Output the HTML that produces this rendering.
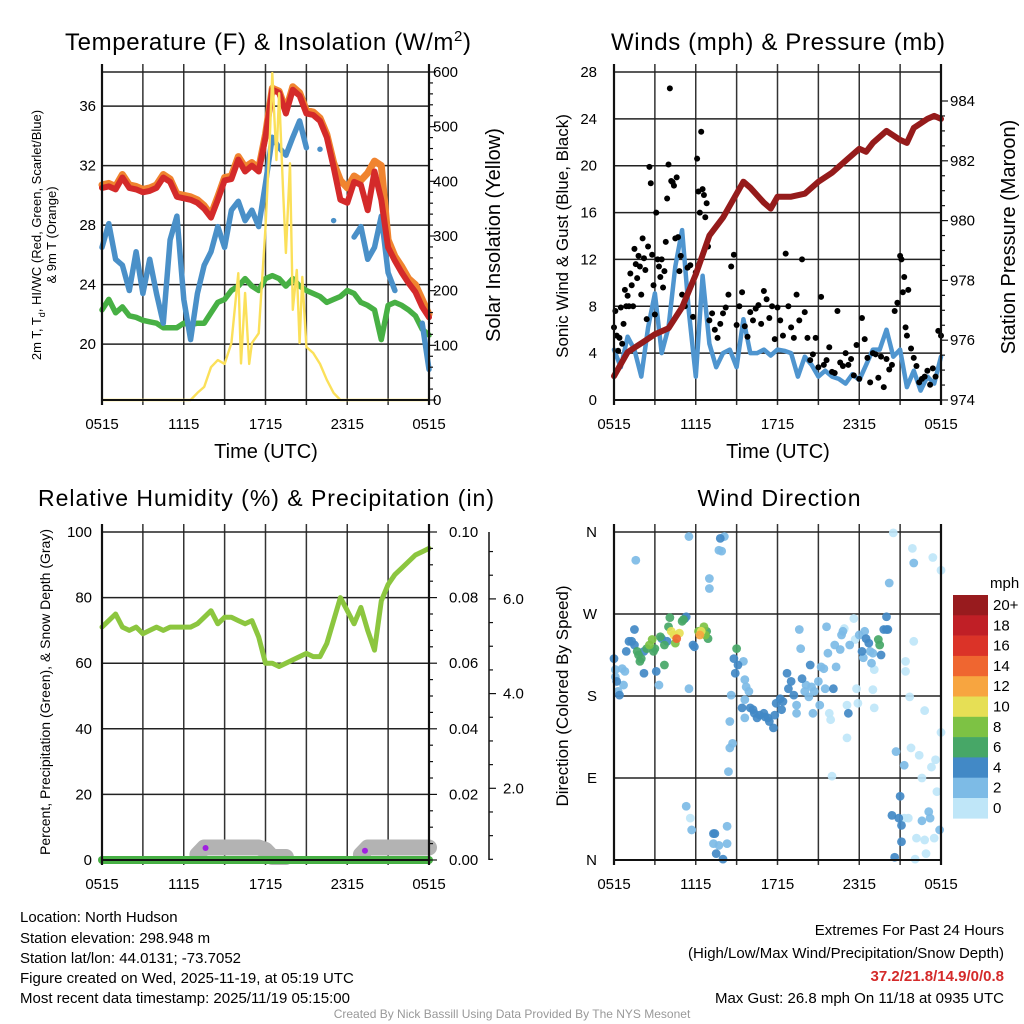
<!DOCTYPE html>
<html><head><meta charset="utf-8">
<style>
html,body{margin:0;padding:0;background:#fff;}
svg{display:block;font-family:"Liberation Sans",sans-serif;}
</style></head>
<body>
<svg id="chart" width="1024" height="1024" viewBox="0 0 1024 1024" xmlns="http://www.w3.org/2000/svg">
<rect x="0" y="0" width="1024" height="1024" fill="#fff"/>
<!-- titles -->
<text x="268" y="50" font-size="24" text-anchor="middle" textLength="406">Temperature (F) &amp; Insolation (W/m<tspan dy="-9" font-size="15">2</tspan><tspan dy="9">)</tspan></text>
<text x="778" y="50" font-size="24" text-anchor="middle" textLength="334">Winds (mph) &amp; Pressure (mb)</text>
<text x="266" y="506" font-size="23" text-anchor="middle" textLength="456">Relative Humidity (%) &amp; Precipitation (in)</text>
<text x="779" y="506" font-size="23" text-anchor="middle" textLength="163">Wind Direction</text>
<!-- axis titles -->
<text transform="translate(41,235) rotate(-90)" font-size="13" text-anchor="middle">2m T, T<tspan dy="4" font-size="9">d</tspan><tspan dy="-4">, HI/WC (Red, Green, Scarlet/Blue)</tspan></text>
<text transform="translate(56,235) rotate(-90)" font-size="13" text-anchor="middle">&amp; 9m T (Orange)</text>
<text transform="translate(500,235) rotate(-90)" font-size="20" text-anchor="middle">Solar Insolation (Yellow)</text>
<text x="266" y="458" font-size="20" text-anchor="middle">Time (UTC)</text>
<text transform="translate(568,236) rotate(-90)" font-size="17" text-anchor="middle">Sonic Wind &amp; Gust (Blue, Black)</text>
<text transform="translate(1015,237) rotate(-90)" font-size="20" text-anchor="middle">Station Pressure (Maroon)</text>
<text x="778" y="458" font-size="20" text-anchor="middle">Time (UTC)</text>
<text transform="translate(50,692) rotate(-90)" font-size="14" text-anchor="middle">Percent, Precipitation (Green), &amp; Snow Depth (Gray)</text>
<text transform="translate(568,696) rotate(-90)" font-size="17" text-anchor="middle">Direction (Colored By Speed)</text>
<!-- footer -->
<g font-size="15">
<text x="20" y="922">Location: North Hudson</text>
<text x="20" y="943">Station elevation: 298.948 m</text>
<text x="20" y="963">Station lat/lon: 44.0131; -73.7052</text>
<text x="20" y="983">Figure created on Wed, 2025-11-19, at 05:19 UTC</text>
<text x="20" y="1003">Most recent data timestamp: 2025/11/19 05:15:00</text>
</g>
<g font-size="15" text-anchor="end">
<text x="1004" y="935">Extremes For Past 24 Hours</text>
<text x="1004" y="958">(High/Low/Max Wind/Precipitation/Snow Depth)</text>
<text x="1004" y="981" fill="#d42a2a" font-weight="bold">37.2/21.8/14.9/0/0.8</text>
<text x="1004" y="1003">Max Gust: 26.8 mph On 11/18 at 0935 UTC</text>
</g>
<text x="512" y="1018" font-size="12" fill="#999" text-anchor="middle">Created By Nick Bassill Using Data Provided By The NYS Mesonet</text>
</svg>
<script>
// ---------- DATA ----------
const xTickLabels = ["0515","1115","1715","2315","0515"];
const halfHours = [];
for (let i = 0; i <= 48; i++) halfHours.push(i / 2);
const tempAir = [30.5,30.6,30.4,31.2,30.5,30.4,30.2,30.3,30.5,31.2,30.9,29.9,29.8,29.7,29.5,29.1,28.5,29.7,31.0,31.1,32.4,31.6,32.0,31.6,33.9,37.1,36.9,35.5,37.1,36.7,35.5,35.4,35.0,33.9,31.9,29.7,29.5,30.9,30.7,29.0,31.6,29.7,26.5,25.6,24.8,24.1,23.5,22.5,21.8];
const temp9m = [30.7,30.8,30.6,31.4,30.7,30.6,30.4,30.5,30.7,31.4,31.1,30.1,30.0,29.9,29.7,29.3,28.7,29.9,31.2,31.3,32.6,31.9,32.2,31.8,34.1,37.2,37.0,35.7,37.3,36.9,35.7,35.6,35.2,34.1,32.2,31.0,30.5,31.3,31.0,31.5,32.3,32.0,27.0,25.9,25.2,24.4,24.0,23.0,22.0];
const heatIndexWindChill = [26.5,28.1,25.7,25.3,23.6,26.2,23.4,25.7,23.4,21.4,27.0,28.6,23.0,20.3,23.4,25.3,26.2,27.9,26.5,29.0,29.6,28.3,29.0,27.9,30.8,33.9,33.2,32.7,33.9,35.0,33.2,null,33.1,null,28.3,null,null,27.2,27.9,25.7,26.5,28.6,24.8,23.6,null,null,null,21.4,18.3];
const dewPoint = [22.3,23.0,22.1,22.5,21.9,21.8,21.6,21.5,21.4,21.1,21.1,21.1,21.4,21.3,21.4,21.4,22.1,22.8,23.0,23.6,23.9,24.4,23.9,23.6,24.4,24.6,24.4,23.9,24.4,23.9,23.6,23.4,23.2,22.8,23.0,23.2,23.6,23.4,22.8,22.6,22.3,20.3,22.6,22.8,22.6,22.3,21.9,21.0,20.6];
const solarHours = [0,6.5,7,7.5,8,8.5,9,9.5,10,10.2,10.5,10.8,11,11.5,12,12.3,12.5,12.8,13,13.3,13.5,13.8,14,14.3,14.5,14.7,15,15.5,16,16.5,17,17.5,24];
const solarValues = [0,0,13,24,60,73,66,104,232,67,196,66,104,122,316,470,598,439,561,378,269,433,165,238,104,225,97,86,66,37,13,0,0];
const tempTicks = [20,24,28,32,36];
const solarTicks = [0,100,200,300,400,500,600];

const windSpeed = [4.3,2.8,5.4,4.3,2.0,6.2,9.1,4.0,6.2,11.4,14.5,7.5,2.0,10.6,4.8,2.8,4.0,4.3,2.8,6.9,4.0,4.0,4.3,3.8,4.3,4.2,4.0,2.0,3.7,3.0,2.0,2.5,2.0,1.8,1.4,2.2,1.7,3.0,4.3,4.3,6.0,3.7,4.3,1.1,2.5,0.8,2.0,1.4,3.7];
const gustHours = [0,0.1,0.2,0.3,0.4,0.5,0.6,0.7,0.8,0.9,1.0,1.1,1.2,1.3,1.4,1.5,1.6,1.7,1.8,1.9,2.0,2.1,2.2,2.3,2.4,2.5,2.6,2.7,2.8,2.9,3.0,3.1,3.2,3.3,3.4,3.5,3.6,3.7,3.8,3.9,4.0,4.1,4.2,4.3,4.4,4.5,4.6,4.7,4.8,4.9,5.0,5.2,5.4,5.6,5.8,6.0,6.1,6.2,6.3,6.4,6.5,6.6,6.7,6.8,6.9,7.0,7.2,7.4,7.6,7.8,8.0,8.2,8.4,8.6,8.8,9.0,9.2,9.4,9.6,9.8,10.0,10.2,10.4,10.6,10.8,11.0,11.2,11.4,11.6,11.8,12.0,12.2,12.4,12.6,12.8,13.0,13.2,13.4,13.6,13.8,14.0,14.2,14.4,14.6,14.8,15.0,15.2,15.4,15.6,15.8,16.0,16.2,16.4,16.6,16.8,17.0,17.2,17.4,17.6,17.8,18.0,18.2,18.4,18.6,18.8,19.0,19.2,19.4,19.6,19.8,20.0,20.2,20.4,20.6,20.8,21.0,21.1,21.2,21.3,21.4,21.5,21.6,21.8,22.0,22.2,22.4,22.6,22.8,23.0,23.2,23.4,23.6,23.8,24];
const gustValues = [6.2,7.6,5.5,4.2,5.3,7.9,4.8,6.5,9.4,8.0,8.9,8.0,10.8,9.8,8.0,12.9,11.6,10.4,12.3,11.4,9.0,13.8,12.1,11.1,6.9,13.1,19.9,18.5,12.4,9.8,7.3,16.0,12.0,11.4,10.5,12.0,9.6,11.0,13.5,17.2,20.1,26.6,18.7,18.6,18.3,13.8,19.0,13.9,11.0,12.3,9.0,8.0,11.3,11.5,7.1,10.9,20.6,17.8,16.0,22.9,18.0,17.5,15.6,16.8,13.1,6.8,7.4,6.0,5.3,6.5,7.4,7.9,9.0,11.4,12.4,6.4,8.0,9.2,6.3,5.4,7.5,6.8,7.8,8.1,6.5,9.3,8.6,7.0,8.0,5.2,7.9,6.8,5.5,12.5,8.0,6.2,5.3,9.0,6.8,12.0,7.5,5.3,3.4,3.9,5.3,2.8,8.8,3.0,3.4,4.5,2.4,2.3,7.6,3.2,2.9,4.0,3.0,3.5,2.1,4.7,1.8,7.0,5.2,3.6,1.5,4.0,3.9,1.9,3.7,1.1,3.5,2.6,3.0,7.6,8.3,12.3,12.0,9.2,10.5,6.2,5.5,9.4,4.4,3.6,2.9,1.5,1.8,2.0,2.5,1.3,2.7,2.0,5.9,5.5];
const presHours = [0,1,2,3,4,5,6,7,8,9,9.5,10,11,11.5,12,13,14,15,16,17,18,18.5,19,20,21,21.5,22,23,23.5,24];
const pressure = [974.8,975.6,975.9,976.2,976.4,977.1,978.2,979.5,980.1,980.9,981.3,981.1,980.6,980.4,980.8,980.8,980.9,981.3,981.6,982.0,982.4,982.3,982.6,983.0,982.7,982.6,983.1,983.4,983.5,983.4];
const windTicks = [0,4,8,12,16,20,24,28];
const presTicks = [974,976,978,980,982,984];

const relHumidity = [71,73,75,71,70,71,69,70,71,70,71,71,71,71,72,74,76,72,74,74,73,72,73,68,60,60,59,60,61,62,63,62,62,66,73,80,76,72,77,70,64,79,84,87,89,91,93,94,95];
const snowDepth = [null,null,null,null,null,null,null,null,null,null,null,null,null,null,0.6,0.75,0.75,0.75,0.75,0.75,0.75,0.75,0.75,0.75,0.7,0.55,0.55,0.55,null,null,null,null,null,null,null,null,null,null,0.6,0.75,0.75,0.75,0.75,0.75,0.75,0.75,0.75,0.75,0.75];
const precipHours = [0,24];
const precipValues = [0,0];
const precipTypeHours = [7.6,19.3];
const precipTypeSnow = [0.74,0.68];
const rhTicks = [0,20,40,60,80,100];
const precipTicks = ["0.00","0.02","0.04","0.06","0.08","0.10"];
const snowTicks = [2.0,4.0,6.0];

const dirLabels = ["N","E","S","W","N"];
const dirTicks = [0,90,180,270,360];
const speedBins = ["0","2","4","6","8","10","12","14","16","18","20+"];
const speedColors = ["#bfe6f8","#7dbbe6","#4289c6","#47a767","#7dc244","#e6df55","#f7a540","#ef6630","#db3328","#c01f26","#981b1e"];
const dirObs = [[0,221,5],[0.1,209,3],[0.1,201,3],[0.2,196,5],[0.3,185,3],[0.4,181,5],[0.7,192,3],[0.6,210,3],[0.8,207,3],[0.9,229,5],[1.1,240,5],[1.3,240,5],[1.5,253,5],[1.5,236,5],[1.7,229,7],[1.8,225,7],[1.9,218,7],[2.0,221,7],[2.2,229,5],[2.4,232,7],[2.6,236,9],[2.8,242,9],[2.9,229,7],[3.0,232,7],[3.1,207,5],[3.3,192,3],[3.4,245,7],[3.5,243,5],[3.7,236,7],[3.9,240,5],[3.7,214,7],[4.0,256,7],[4.1,266,7],[4.2,251,11],[4.4,247,11],[4.5,238,9],[4.6,243,15],[4.8,249,11],[5.0,262,7],[5.1,264,7],[5.2,265,5],[5.3,267,5],[5.5,188,3],[5.5,355,3],[5.8,236,5],[5.9,234,5],[6.2,251,9],[6.3,247,13],[6.4,251,11],[6.6,256,9],[6.7,247,9],[6.8,251,7],[6.9,243,7],[1.6,329,3],[2.2,205,5],[7.0,309,3],[7.0,298,3],[7.7,340,3],[7.9,339,3],[7.8,353,5],[8.1,355,3],[5.3,59,3],[5.6,46,1],[5.7,33,3],[7.3,29,5],[7.4,29,5],[7.3,18,3],[7.5,7,5],[7.7,16,3],[8.0,1,5],[8.3,37,3],[8.3,18,3],[8.4,97,3],[8.5,152,3],[8.5,123,3],[8.7,128,3],[8.6,181,3],[8.8,221,5],[8.9,205,5],[9.0,232,7],[9.1,214,5],[9.5,218,3],[9.6,198,3],[9.4,167,5],[9.6,176,3],[9.6,156,3],[9.7,190,3],[9.9,185,3],[10.0,167,5],[10.2,165,5],[10.3,161,5],[10.5,156,5],[10.7,159,5],[11.0,161,5],[11.1,157,5],[11.3,156,5],[11.4,152,5],[11.7,145,5],[11.8,159,5],[11.9,172,5],[12.2,177,5],[12.3,165,5],[12.4,174,5],[12.7,205,5],[12.8,188,5],[13.0,196,5],[13.2,181,5],[13.4,170,3],[13.4,161,3],[13.6,253,3],[13.7,232,3],[13.8,199,5],[14.0,185,3],[14.1,192,3],[14.3,179,3],[14.4,214,5],[14.5,190,3],[14.6,161,3],[14.7,185,3],[15.0,196,3],[15.1,170,3],[15.2,212,3],[15.4,210,3],[15.5,188,3],[15.6,256,3],[15.7,227,3],[15.8,161,1],[15.9,154,1],[16.0,92,1],[16.1,188,5],[16.2,236,3],[16.3,212,3],[16.6,231,3],[16.7,247,3],[16.8,251,3],[16.9,254,1],[17.1,170,1],[17.1,134,1],[17.2,161,5],[17.3,236,3],[17.6,265,1],[17.7,242,1],[17.8,188,1],[17.9,172,1],[18.0,247,3],[18.2,229,5],[18.3,222,3],[18.4,251,3],[18.5,243,5],[18.7,238,5],[18.8,229,3],[18.9,216,3],[19.0,227,3],[19.1,209,1],[19.0,187,1],[19.1,167,1],[19.4,242,7],[19.5,236,7],[19.6,225,5],[19.8,253,5],[20.0,267,5],[20.0,253,5],[20.1,253,5],[20.2,304,3],[20.4,49,5],[20.5,359,1],[20.6,3,5],[20.7,119,3],[20.9,46,5],[21.0,70,5],[21.1,38,5],[21.1,20,5],[21.3,104,3],[21.3,46,1],[21.4,218,1],[21.4,207,1],[21.6,46,1],[21.7,179,1],[21.8,123,1],[21.9,342,1],[22.0,326,3],[22.0,240,1],[22.1,1,1],[22.2,24,1],[22.4,115,1],[22.6,90,1],[22.6,43,3],[22.8,164,1],[22.8,22,1],[22.9,7,1],[23.1,53,3],[23.2,46,3],[23.3,102,1],[23.4,332,1],[23.5,24,1],[23.6,110,1],[23.7,75,1],[23.9,33,3],[24.0,318,1],[24.0,140,1]];

// ---------- HELPERS ----------
const NS = "http://www.w3.org/2000/svg";
const svg = document.getElementById("chart");
function mk(tag, attrs, parent) {
  const e = document.createElementNS(NS, tag);
  for (const k in attrs) e.setAttribute(k, attrs[k]);
  (parent || svg).appendChild(e);
  return e;
}
function txt(x, y, s, size, anchor, parent) {
  const t = mk("text", {x: x, y: y, "font-size": size, "text-anchor": anchor}, parent);
  t.textContent = s;
  return t;
}
const P1 = {x0:102, x1:429, y0:72, y1:400};
const P2 = {x0:614, x1:941, y0:72, y1:400};
const P3 = {x0:102, x1:429, y0:532, y1:860};
const P4 = {x0:614, x1:941, y0:532, y1:860};
function xs(p, h) { return p.x0 + h / 24 * (p.x1 - p.x0); }
function lin(p, lo, hi) { return v => p.y1 - (v - lo) / (hi - lo) * (p.y1 - p.y0); }
const yTemp = lin(P1, 16.24, 38.29);
const ySolar = lin(P1, 0, 600);
const yWind = lin(P2, 0, 28);
const yPres = v => 400 - (v - 974) * 29.9;
const yRH = lin(P3, 0, 100);
const ySnow = v => 883 - v * 47.35;
const yDir = lin(P4, 0, 360);

function segPaths(hours, vals, p, yf) {
  const segs = []; let cur = [];
  for (let i = 0; i < vals.length; i++) {
    if (vals[i] === null) { if (cur.length) segs.push(cur); cur = []; }
    else cur.push([xs(p, hours[i]), yf(vals[i])]);
  }
  if (cur.length) segs.push(cur);
  return segs;
}
function drawSeries(hours, vals, p, yf, color, width, name, g) {
  const segs = segPaths(hours, vals, p, yf);
  segs.forEach(s => {
    if (s.length === 1) {
      const c = mk("circle", {cx: s[0][0], cy: s[0][1], r: width / 2, fill: color}, g);
      
      
    } else {
      const d = s.map((q, i) => (i ? "L" : "M") + q[0].toFixed(1) + "," + q[1].toFixed(1)).join("");
      const pa = mk("path", {d: d, fill: "none", stroke: color, "stroke-width": width, "stroke-linejoin": "round", "stroke-linecap": "round"}, g);
      
      
    }
  });
}
function frame(p, hTicksY, name) {
  const g = mk("g", {});
  
  
  for (let h = 3; h < 24; h += 3) {
    const l = mk("line", {x1: xs(p, h), x2: xs(p, h), y1: p.y0 - 8, y2: p.y1 + 5, stroke: "#333", "stroke-width": 1.5}, g);
    
    
  }
  hTicksY.forEach(y => {
    const l = mk("line", {x1: p.x0, x2: p.x1, y1: y, y2: y, stroke: "#222", "stroke-width": 1.5}, g);
    
    
  });
  xTickLabels.forEach((s, i) => {
    const t = txt(xs(p, i * 6), p.y1 + 29, s, 15, "middle", g);
    
    
  });
  return g;
}
function border(p, name) {
  const l1 = mk("line", {x1: p.x0, x2: p.x0, y1: p.y0 - 8, y2: p.y1 + 5, stroke: "#111", "stroke-width": 2.2});
  
  
  const l2 = mk("line", {x1: p.x1, x2: p.x1, y1: p.y0 - 8, y2: p.y1 + 5, stroke: "#111", "stroke-width": 2.2});
  
  
  const l3 = mk("line", {x1: p.x0, x2: p.x1, y1: p.y1, y2: p.y1, stroke: "#111", "stroke-width": 2});
  
  
}

// ---------- PANEL 1 ----------
frame(P1, tempTicks.map(yTemp).concat([ySolar(600)]), "temp");
const g1 = mk("g", {});


drawSeries(halfHours, dewPoint, P1, yTemp, "#47b044", 5.5, "dewpoint-line", g1);
drawSeries(halfHours, heatIndexWindChill, P1, yTemp, "#4a90c8", 5.5, "wind-chill-line", g1);
drawSeries(halfHours, temp9m, P1, yTemp, "#f0842f", 7, "temp-9m-line", g1);
drawSeries(halfHours, tempAir, P1, yTemp, "#d42a2a", 6, "temp-2m-line", g1);
drawSeries(solarHours, solarValues, P1, ySolar, "#fbe05a", 2.4, "solar-line", g1);
border(P1, "temp");
tempTicks.forEach(v => {
  const t = txt(96, yTemp(v) + 5, String(v), 15, "end");
  
  
});
for (let v = 0; v <= 600; v += 20) {
  const major = v % 100 === 0;
  const tk = mk("line", {x1: P1.x1, x2: P1.x1 + (major ? 7 : 4), y1: ySolar(v), y2: ySolar(v), stroke: "#111", "stroke-width": 1.2});
  
  
}
solarTicks.forEach(v => {
  const t = txt(433, ySolar(v) + 5, String(v), 15, "start");
  
  
});

// ---------- PANEL 2 ----------
frame(P2, windTicks.map(yWind), "wind");
const g2 = mk("g", {});


drawSeries(halfHours, windSpeed, P2, yWind, "#4f95cf", 4.5, "wind-speed-line", g2);
gustHours.forEach((h, i) => {
  const c = mk("circle", {cx: xs(P2, h), cy: yWind(gustValues[i]), r: 3, fill: "#000"}, g2);
  
  
});
drawSeries(presHours, pressure, P2, yPres, "#951b1b", 6, "pressure-line", g2);
border(P2, "wind");
windTicks.forEach(v => {
  const t = txt(597, yWind(v) + 5, String(v), 15, "end");
  
  
});
for (let v = 974; v <= 984.01; v += 0.5) {
  const major = Math.abs(v % 2) < 0.01;
  const tk = mk("line", {x1: P2.x1, x2: P2.x1 + (major ? 7 : 4), y1: yPres(v), y2: yPres(v), stroke: "#111", "stroke-width": 1.2});
  
  
}
presTicks.forEach(v => {
  const t = txt(950, yPres(v) + 5, String(v), 15, "start");
  
  
});

// ---------- PANEL 3 ----------
frame(P3, rhTicks.map(yRH), "rh");
const g3 = mk("g", {});


drawSeries(halfHours, snowDepth, P3, ySnow, "#b3b3b3", 16, "snow-depth-band", g3);
drawSeries(precipHours, precipValues, P3, v => yRH(v * 1000), "#47b044", 8, "precip-line", g3);
precipTypeHours.forEach((h, i) => {
  const c = mk("circle", {cx: xs(P3, h), cy: ySnow(precipTypeSnow[i]), r: 3, fill: "#a020e0"}, g3);
  
  
});
drawSeries(halfHours, relHumidity, P3, yRH, "#8cc63f", 5, "rh-line", g3);
border(P3, "rh");
rhTicks.forEach(v => {
  const t = txt(92, yRH(v) + 5, String(v), 15, "end");
  
  
});
for (let k = 0; k <= 20; k++) {
  const major = k % 4 === 0;
  const y = P3.y1 - k * (P3.y1 - P3.y0) / 20;
  const tk = mk("line", {x1: P3.x1, x2: P3.x1 + (major ? 8 : 4), y1: y, y2: y, stroke: "#111", "stroke-width": 1.2});
  
  
}
precipTicks.forEach((s, i) => {
  const t = txt(449, yRH(i * 20) + 5, s, 15, "start");
  
  
});
const snowAxis = mk("line", {x1: 489, x2: 489, y1: P3.y0, y2: P3.y1, stroke: "#111", "stroke-width": 1.5});


for (let v = 0.5; v <= 7.5; v += 0.5) {
  const y = ySnow(v); if (y < P3.y0 || y > P3.y1) continue;
  const major = Math.abs(v % 2) < 0.01;
  const tk = mk("line", {x1: 489, x2: 489 + (major ? 7 : 4), y1: y, y2: y, stroke: "#111", "stroke-width": 1.2});
  
  
}
snowTicks.forEach(v => {
  const t = txt(503, ySnow(v) + 5, v.toFixed(1), 15, "start");
  
  
});

// ---------- PANEL 4 ----------
frame(P4, dirTicks.map(yDir), "direction");
function speedColor(s) { return speedColors[Math.min(10, Math.floor(s / 2))]; }
const g4 = mk("g", {});


dirObs.slice().sort((a, b) => a[2] - b[2]).forEach(d => {
  const c = mk("circle", {cx: xs(P4, d[0]), cy: yDir(d[1]), r: 4.4, fill: speedColor(d[2]), "fill-opacity": 0.92}, g4);
  
  
});
border(P4, "direction");
dirTicks.forEach((v, i) => {
  const t = txt(597, yDir(v) + 5, dirLabels[i], 15, "end");
  
  
});
// colorbar
const cb = mk("g", {});


const cbTop = 595, cbH = 20.3;
speedColors.slice().reverse().forEach((col, i) => {
  const r = mk("rect", {x: 953, y: cbTop + i * cbH, width: 35, height: cbH + 0.3, fill: col}, cb);
  
  
});
const mphT = txt(990, 588, "mph", 15, "start", cb);


speedBins.slice().reverse().forEach((s, i) => {
  const t = txt(993, cbTop + i * cbH + 15, s, 15, "start", cb);
  
  
});
</script>
</body></html>
